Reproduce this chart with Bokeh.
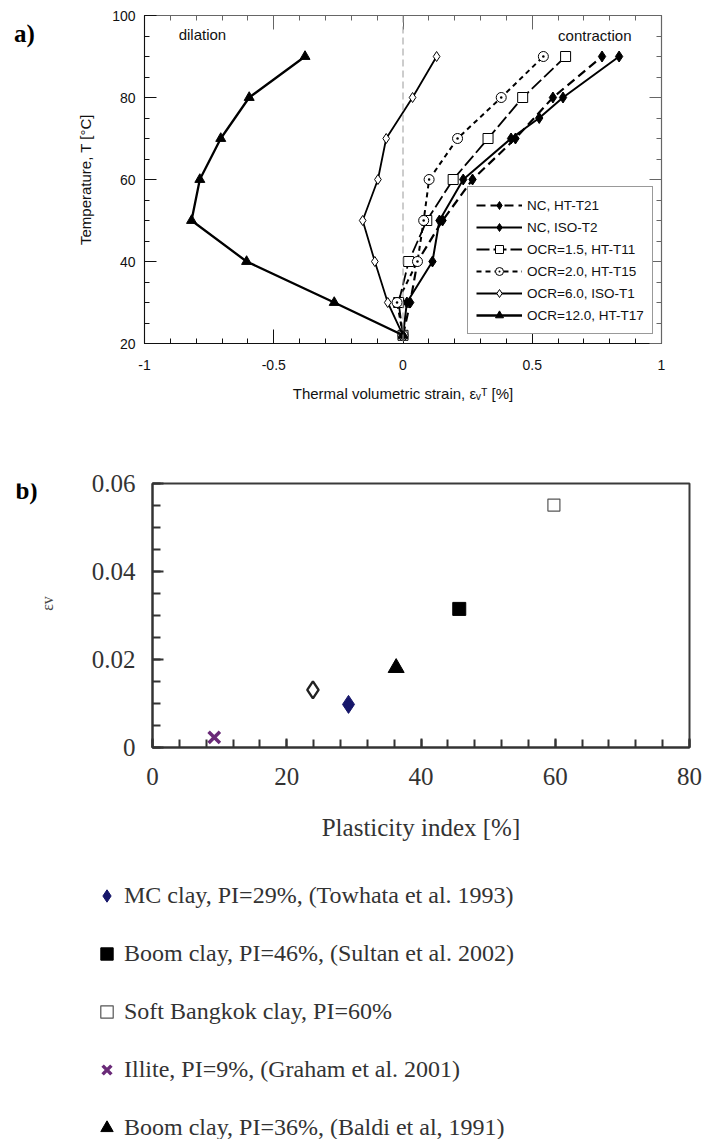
import numpy as np
from bokeh.plotting import figure
from bokeh.models import Range1d, FixedTicker, LinearAxis, Legend, LegendItem, Label, Span
from bokeh.layouts import column, row
from bokeh.embed import file_html
from bokeh.resources import INLINE

# ---------------- Panel a data: temperature [°C] vs thermal volumetric strain [%]
T_NC_HT_T21 = [22, 30, 40, 50, 60, 70, 80, 90]
eps_NC_HT_T21 = [0.0, 0.028, 0.056, 0.153, 0.269, 0.435, 0.580, 0.770]

T_NC_ISO_T2 = [22, 30, 40, 50, 60, 70, 75, 80, 90]
eps_NC_ISO_T2 = [0.0, 0.015, 0.114, 0.141, 0.233, 0.418, 0.527, 0.619, 0.836]

T_OCR15_HT_T11 = [22, 30, 40, 50, 60, 70, 80, 90]
eps_OCR15_HT_T11 = [0.0, -0.017, 0.022, 0.092, 0.194, 0.329, 0.463, 0.629]

T_OCR20_HT_T15 = [22, 30, 40, 50, 60, 70, 80, 90]
eps_OCR20_HT_T15 = [0.0, -0.023, 0.056, 0.080, 0.101, 0.211, 0.380, 0.543]

T_OCR60_ISO_T1 = [22, 30, 40, 50, 60, 70, 80, 90]
eps_OCR60_ISO_T1 = [0.0, -0.059, -0.109, -0.156, -0.097, -0.065, 0.037, 0.130]

T_OCR120_HT_T17 = [22, 30, 40, 50, 60, 70, 80, 90]
eps_OCR120_HT_T17 = [0.0, -0.266, -0.605, -0.818, -0.786, -0.705, -0.595, -0.379]

labels_a = ["NC, HT-T21", "NC, ISO-T2", "OCR=1.5, HT-T11",
            "OCR=2.0, HT-T15", "OCR=6.0, ISO-T1", "OCR=12.0, HT-T17"]

x_ticks_a = [-1, -0.5, 0, 0.5, 1]
y_ticks_a = [20, 40, 60, 80, 100]

# ---------------- Panel b data: volumetric strain vs plasticity index
labels_b = ["MC clay, PI=29%, (Towhata et al. 1993)",
            "Boom clay, PI=46%, (Sultan et al. 2002)",
            "Soft Bangkok clay, PI=60%",
            "Illite, PI=9%, (Graham et al. 2001)",
            "Boom clay, PI=36%, (Baldi et al, 1991)"]
PI_b = [29.2, 45.7, 59.8, 9.2, 36.3]
ev_b = [0.0098, 0.0315, 0.0551, 0.0023, 0.0181]
PI_extra = [23.9]
ev_extra = [0.0131]

x_ticks_b = [0, 20, 40, 60, 80]
y_ticks_b = [0, 0.02, 0.04, 0.06]

SANS = "Liberation Sans"
SERIF = "Liberation Serif"


def blank_fig(w, h):
    f = figure(frame_width=w, frame_height=h, min_border=0,
               x_range=Range1d(0, w), y_range=Range1d(0, h),
               x_axis_location=None, y_axis_location=None,
               output_backend="svg", toolbar_location=None)
    f.grid.visible = False
    f.outline_line_color = None
    return f


def style_axis(ax, tin, mtin, font, size, color="#000000", lw=1.2):
    ax.major_tick_in = tin
    ax.major_tick_out = 0
    ax.minor_tick_in = mtin
    ax.minor_tick_out = 0
    ax.major_label_text_font = font
    ax.major_label_text_font_size = size
    ax.major_label_text_color = color
    ax.axis_line_color = color
    ax.major_tick_line_color = color
    ax.minor_tick_line_color = color
    ax.axis_line_width = lw
    ax.major_tick_line_width = lw
    ax.minor_tick_line_width = lw


# ======================= Panel a =======================
la = blank_fig(60, 410)
la.add_layout(Label(x=24, y=392, text="a)", text_font=SERIF, text_font_size="25px",
                    text_font_style="bold", text_align="center", text_baseline="middle",
                    text_color="black"))

pa = figure(frame_width=517, frame_height=328,
            min_border_left=84, min_border_right=43, min_border_top=15, min_border_bottom=67,
            x_range=Range1d(-1, 1), y_range=Range1d(20, 100),
            output_backend="svg", toolbar_location=None)
pa.grid.visible = False
pa.outline_line_color = "#666666"
pa.outline_line_width = 1.2

xt_a = FixedTicker(ticks=x_ticks_a, minor_ticks=[float(v) for v in np.round(np.arange(-1, 1.0001, 0.1), 2)])
yt_a = FixedTicker(ticks=y_ticks_a, minor_ticks=[float(v) for v in range(20, 101, 5)])

xa = pa.xaxis[0]
xa.ticker = xt_a
style_axis(xa, 14, 5, SANS, "14px", "#111111", 1.0)
xa.major_label_standoff = 16
xa.major_label_overrides = {-1: "-1", -0.5: "-0.5", 0: "0", 0.5: "0.5", 1: "1"}
xa.axis_label = "Thermal volumetric strain, εᵥᵀ [%]"
xa.axis_label_text_font = SANS
xa.axis_label_text_font_size = "15px"
xa.axis_label_text_font_style = "normal"
xa.axis_label_text_color = "#111111"
xa.axis_label_standoff = 12

ya = pa.yaxis[0]
ya.ticker = yt_a
style_axis(ya, 12, 5, SANS, "14px", "#111111", 1.0)
ya.major_label_standoff = 9
ya.axis_label = "Temperature, T [°C]"
ya.axis_label_text_font = SANS
ya.axis_label_text_font_size = "15px"
ya.axis_label_text_font_style = "normal"
ya.axis_label_text_color = "#111111"
ya.axis_label_standoff = 15

top_a = LinearAxis(ticker=xt_a)
style_axis(top_a, 14, 5, SANS, "1px", "#666666", 1.0)
top_a.major_label_text_color = None
top_a.major_label_standoff = 0
pa.add_layout(top_a, "above")
right_a = LinearAxis(ticker=yt_a)
style_axis(right_a, 12, 5, SANS, "1px", "#666666", 1.0)
right_a.major_label_text_color = None
right_a.major_label_standoff = 0
pa.add_layout(right_a, "right")

pa.add_layout(Span(location=0, dimension="height", line_color="#9a9a9a",
                   line_dash="7 4", line_width=1))

series_a = [
    (T_NC_HT_T21, eps_NC_HT_T21, dict(line_dash="9 5", line_width=2.2), dict(marker="diamond", size=11, fill_color="black")),
    (T_NC_ISO_T2, eps_NC_ISO_T2, dict(line_dash="solid", line_width=2.0), dict(marker="diamond", size=11, fill_color="black")),
    (T_OCR15_HT_T11, eps_OCR15_HT_T11, dict(line_dash="13 4", line_width=1.8), dict(marker="square", size=10, fill_color="white")),
    (T_OCR20_HT_T15, eps_OCR20_HT_T15, dict(line_dash="5 4", line_width=2.0), dict(marker="circle_dot", size=10, fill_color="white")),
    (T_OCR60_ISO_T1, eps_OCR60_ISO_T1, dict(line_dash="solid", line_width=1.8), dict(marker="diamond", size=10, fill_color="white")),
    (T_OCR120_HT_T17, eps_OCR120_HT_T17, dict(line_dash="solid", line_width=2.3), dict(marker="triangle", size=10, fill_color="black")),
]

items_a = []
for (T, e, lstyle, mstyle), lab in zip(series_a, labels_a):
    lr = pa.line(e, T, line_color="black", **lstyle)
    sr = pa.scatter(e, T, line_color="black", line_width=1.0, **mstyle)
    items_a.append(LegendItem(label=lab, renderers=[lr, sr]))

leg_a = Legend(items=items_a, location=(323, 9),
               label_text_font=SANS, label_text_font_size="13.5px", label_text_color="#111111",
               glyph_width=46, glyph_height=20, label_height=20, label_standoff=5,
               spacing=2, padding=8, margin=0,
               border_line_color="#333333", border_line_width=1.2,
               background_fill_color="white", background_fill_alpha=1.0)
pa.add_layout(leg_a, "center")

pa.add_layout(Label(x=-0.776, y=95.4, text="dilation", text_font=SANS, text_font_size="15px",
                    text_align="center", text_baseline="middle", text_color="#111111"))
pa.add_layout(Label(x=0.742, y=95.1, text="contraction", text_font=SANS, text_font_size="15px",
                    text_align="center", text_baseline="middle", text_color="#111111"))

# ======================= Panel b =======================
lb = blank_fig(60, 450)
lb.add_layout(Label(x=26, y=443, text="b)", text_font=SERIF, text_font_size="25px",
                    text_font_style="bold", text_align="center", text_baseline="middle",
                    text_color="black"))
lb.add_layout(Label(x=47, y=330, text="εv", text_font=SERIF, text_font_size="16px",
                    text_align="center", text_baseline="middle", angle=np.pi / 2,
                    text_color="#444444"))

pb = figure(frame_width=537, frame_height=264,
            min_border_left=92, min_border_right=15, min_border_top=73, min_border_bottom=113,
            x_range=Range1d(0, 80), y_range=Range1d(0, 0.06),
            output_backend="svg", toolbar_location=None)
pb.grid.visible = False
pb.outline_line_color = "#3a3a3a"
pb.outline_line_width = 2

xt_b = FixedTicker(ticks=x_ticks_b, minor_ticks=[float(v) for v in range(0, 81, 4)])
yt_b = FixedTicker(ticks=y_ticks_b, minor_ticks=[float(v) for v in np.round(np.arange(0, 0.0601, 0.005), 3)])

xb = pb.xaxis[0]
xb.ticker = xt_b
style_axis(xb, 9, 8, SERIF, "25px", "#333333", 2)
xb.major_label_standoff = 20
xb.axis_label = "Plasticity index [%]"
xb.axis_label_text_font = SERIF
xb.axis_label_text_font_size = "25px"
xb.axis_label_text_font_style = "normal"
xb.axis_label_text_color = "#333333"
xb.axis_label_standoff = 26

ybx = pb.yaxis[0]
ybx.ticker = yt_b
style_axis(ybx, 11, 8, SERIF, "25px", "#333333", 2)
ybx.major_label_standoff = 17
ybx.major_label_overrides = {0: "0", 0.02: "0.02", 0.04: "0.04", 0.06: "0.06"}

markers_b = [
    dict(marker="diamond", size=18, fill_color="#16166a", line_color="#16166a", line_width=1),
    dict(marker="square", size=13, fill_color="black", line_color="black", line_width=1),
    dict(marker="square", size=12, fill_color="white", line_color="#555555", line_width=1.2),
    dict(marker="x", size=16, fill_color=None, line_color="#6a2a78", line_width=3.5),
    dict(marker="triangle", size=16, fill_color="black", line_color="black", line_width=1),
]

pb.scatter(PI_extra, ev_extra, marker="diamond", size=17, fill_color="white",
           line_color="#222222", line_width=2.4)

for i, st in enumerate(markers_b):
    pb.scatter([PI_b[i]], [ev_b[i]], **st)

# ---------------- legend of panel b (drawn below the plot)
lg = blank_fig(704, 279)
items_b = []
for i, (lab, st) in enumerate(zip(labels_b, markers_b)):
    # same points, outside this blank panel's view; only their legend glyphs show
    r = lg.scatter([PI_b[i] + 1000], [ev_b[i]], **st)
    items_b.append(LegendItem(label=lab, renderers=[r]))

leg_b = Legend(items=items_b, location=(91, -4),
               label_text_font=SERIF, label_text_font_size="24px", label_text_color="#333333",
               glyph_width=31, glyph_height=31, label_height=31, label_standoff=2,
               spacing=27, padding=0, margin=0,
               border_line_color=None, background_fill_alpha=0)
lg.add_layout(leg_b, "center")

p = column(row(la, pa, spacing=0), row(lb, pb, spacing=0), lg, spacing=0)
open("out.html", "w").write(file_html(p, INLINE))
